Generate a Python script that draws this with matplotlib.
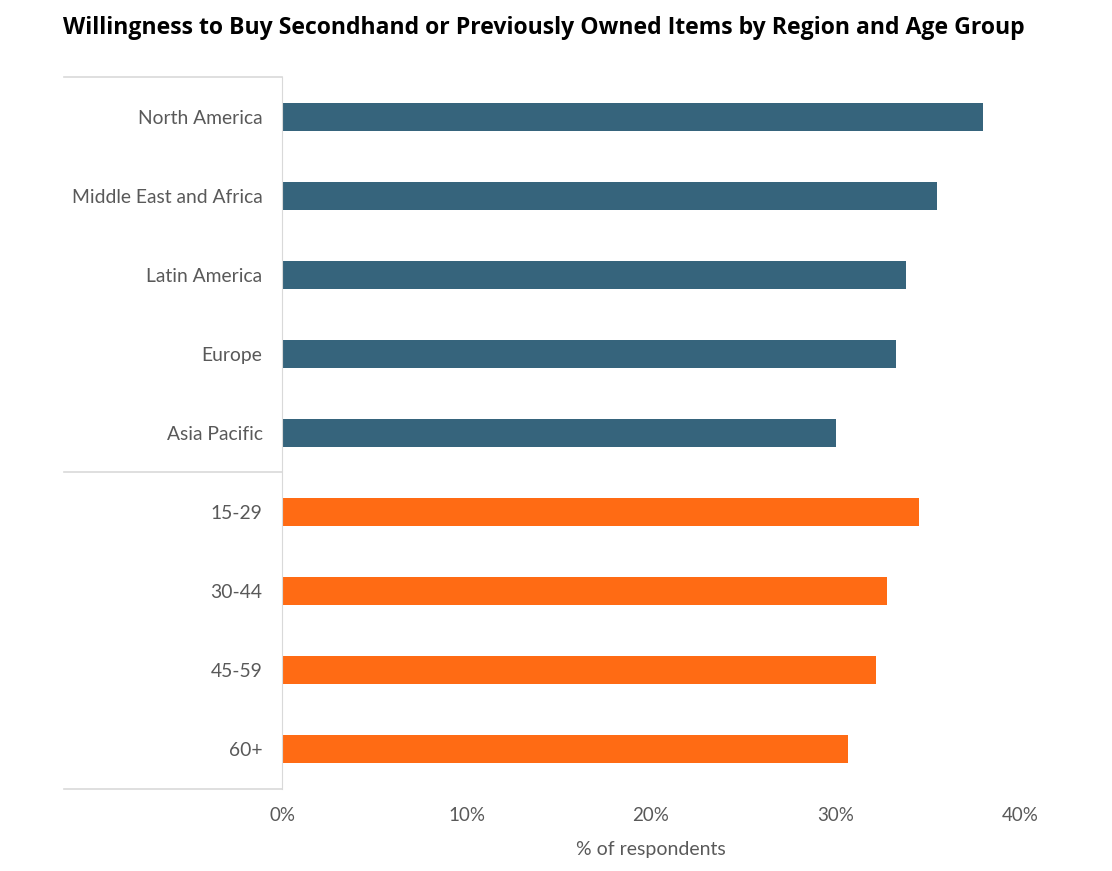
import matplotlib.pyplot as plt
from matplotlib.lines import Line2D

regions = ["North America", "Middle East and Africa", "Latin America", "Europe", "Asia Pacific"]
region_vals = [38.0, 35.5, 33.8, 33.3, 30.0]
ages = ["15-29", "30-44", "45-59", "60+"]
age_vals = [34.5, 32.8, 32.2, 30.7]
xticks = [0, 10, 20, 30, 40]

blue = '#36647c'
orange = '#ff6b14'
grey_txt = '#595959'
line_c = '#d9d9d9'

plt.rcParams['font.family'] = ['Lato', 'DejaVu Sans']

fig = plt.figure(figsize=(11.12, 8.71), dpi=100)
ax = fig.add_axes([282/1112, 1-789/871, (1020-282)/1112, (789-77)/871])

labels = regions + ages
vals = region_vals + age_vals
colors = [blue]*len(regions) + [orange]*len(ages)
ypos = list(range(len(labels)))
ax.barh(ypos, vals, height=0.355, color=colors)
ax.set_ylim(len(labels)-0.5, -0.5)
ax.set_xlim(0, 40)
ax.set_yticks(ypos)
ax.set_yticklabels(labels, fontsize=13.9, color=grey_txt)
ax.set_xticks(xticks)
ax.set_xticklabels([f"{t}%" for t in xticks], fontsize=13.5, color=grey_txt)
ax.tick_params(axis='both', length=0)
ax.tick_params(axis='y', pad=14)
ax.tick_params(axis='x', pad=13)
for s in ['top', 'right', 'bottom']:
    ax.spines[s].set_visible(False)
ax.spines['left'].set_color(line_c)
ax.set_xlabel("% of respondents", fontsize=14, color=grey_txt, labelpad=12)

# separator lines on the left of the axis
for yy in [77, 472, 789]:
    fig.add_artist(Line2D([64/1112, 282/1112], [1-yy/871, 1-yy/871], color=line_c, lw=1.2))

fig.text(63/1112, 1-28/871, "Willingness to Buy Secondhand or Previously Owned Items by Region and Age Group",
         fontsize=16.6, fontweight='bold', color='black', va='center', ha='left',
         family=['Open Sans', 'DejaVu Sans'])

fig.savefig('out.png', dpi=100)
